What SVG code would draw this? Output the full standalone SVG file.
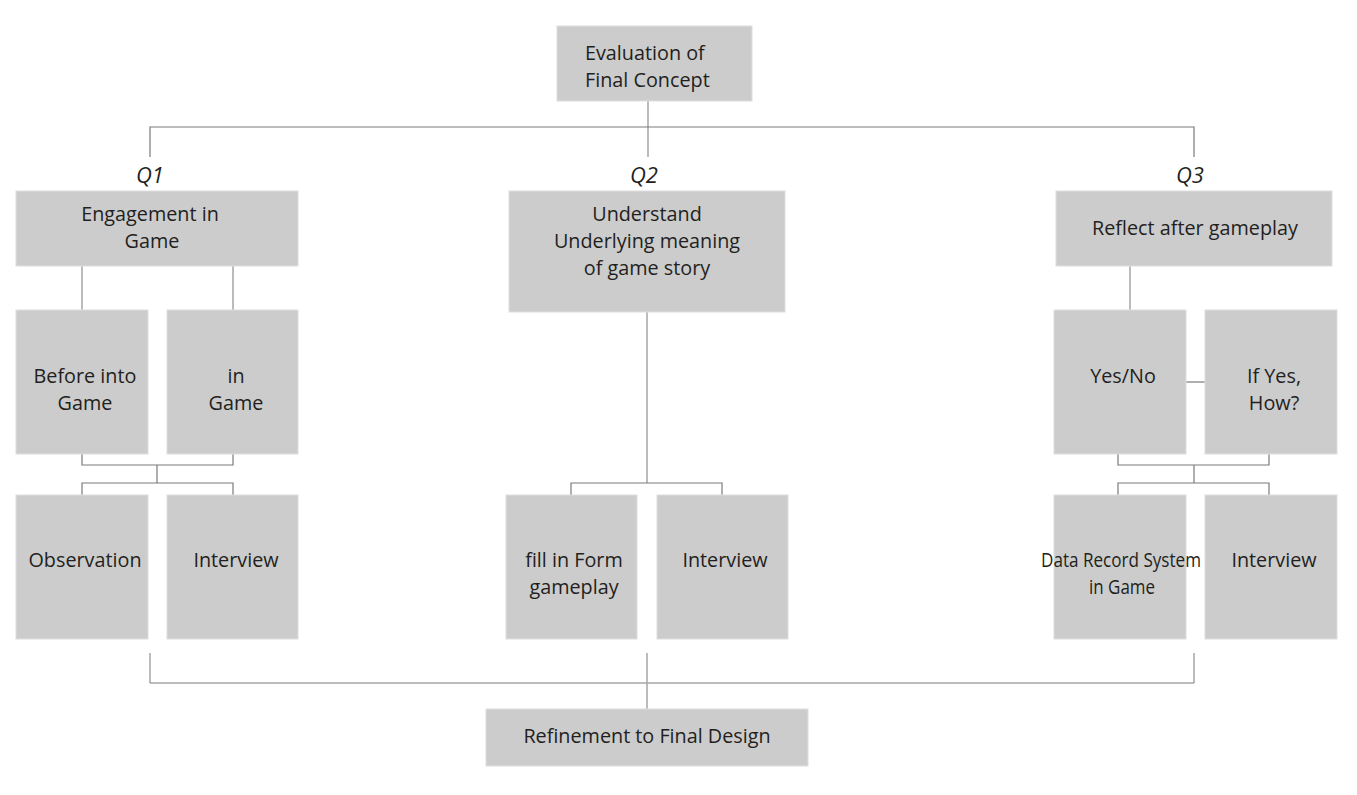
<svg xmlns="http://www.w3.org/2000/svg" width="1357" height="795" viewBox="0 0 1357 795">
<style>
.box{fill:#cccccc;stroke:#dedede;stroke-width:1}
.t{font-family:"Open Sans","Noto Sans",sans-serif;font-size:19.8px;fill:#231f20;text-anchor:middle}
.q{font-family:"Open Sans","Noto Sans",sans-serif;font-size:22px;font-style:italic;fill:#231f20;text-anchor:middle}
.dk{fill:none;stroke:#7a7a7a;stroke-width:1.2}
.lt{fill:none;stroke:#ababab;stroke-width:1.6}
</style>
<rect width="1357" height="795" fill="#ffffff"/>
<g id="connectors">
<line class="lt" x1="648" y1="101" x2="648" y2="157"/>
<polyline class="dk" points="150,157 150,127 1194,127 1194,157"/>
<line class="lt" x1="82" y1="266" x2="82" y2="312"/>
<line class="lt" x1="233" y1="266" x2="233" y2="312"/>
<polyline class="dk" points="82,454 82,465 233,465 233,454"/>
<line class="dk" x1="157" y1="465" x2="157" y2="483"/>
<polyline class="dk" points="82,496 82,483 233,483 233,496"/>
<line class="lt" x1="647" y1="312" x2="647" y2="483"/>
<polyline class="dk" points="571,497 571,483 722,483 722,497"/>
<line class="lt" x1="1130" y1="266" x2="1130" y2="312"/>
<line class="dk" x1="1186" y1="382" x2="1205" y2="382"/>
<polyline class="dk" points="1118,454 1118,465 1269,465 1269,454"/>
<line class="dk" x1="1194" y1="465" x2="1194" y2="483"/>
<polyline class="dk" points="1118,496 1118,483 1269,483 1269,496"/>
<line class="lt" x1="150" y1="653" x2="150" y2="683"/>
<line class="lt" x1="1194" y1="653" x2="1194" y2="683"/>
<line class="dk" x1="150" y1="683" x2="1194" y2="683"/>
<line class="lt" x1="647" y1="653" x2="647" y2="709"/>
</g>
<g id="evaluation">
<rect class="box" x="557" y="26" width="195" height="75"/>
<text class="t" x="585" y="60" style="text-anchor:start">Evaluation of</text>
<text class="t" x="585" y="87" style="text-anchor:start">Final Concept</text>
</g>
<g id="q-labels">
<text class="q" x="150" y="183">Q1</text>
<text class="q" x="644" y="183">Q2</text>
<text class="q" x="1190" y="183">Q3</text>
</g>
<g id="engagement">
<rect class="box" x="16" y="191" width="282" height="75"/>
<text class="t" x="150" y="221">Engagement in</text>
<text class="t" x="152" y="248">Game</text>
</g>
<g id="understand">
<rect class="box" x="509" y="191" width="276" height="121"/>
<text class="t" x="647" y="221">Understand</text>
<text class="t" x="647" y="248">Underlying meaning</text>
<text class="t" x="647" y="275">of game story</text>
</g>
<g id="reflect">
<rect class="box" x="1056" y="191" width="276" height="75"/>
<text class="t" x="1195" y="235">Reflect after gameplay</text>
</g>
<g id="before">
<rect class="box" x="16" y="310" width="132" height="144"/>
<text class="t" x="85" y="383">Before into</text>
<text class="t" x="85" y="410">Game</text>
</g>
<g id="ingame">
<rect class="box" x="167" y="310" width="131" height="144"/>
<text class="t" x="236" y="383">in</text>
<text class="t" x="236" y="410">Game</text>
</g>
<g id="observation">
<rect class="box" x="16" y="495" width="132" height="144"/>
<text class="t" x="85" y="567">Observation</text>
</g>
<g id="interview1">
<rect class="box" x="167" y="495" width="131" height="144"/>
<text class="t" x="236" y="567">Interview</text>
</g>
<g id="fillform">
<rect class="box" x="506" y="495" width="131" height="144"/>
<text class="t" x="574" y="567">fill in Form</text>
<text class="t" x="574" y="594">gameplay</text>
</g>
<g id="interview2">
<rect class="box" x="657" y="495" width="131" height="144"/>
<text class="t" x="725" y="567">Interview</text>
</g>
<g id="yesno">
<rect class="box" x="1054" y="310" width="132" height="144"/>
<text class="t" x="1123" y="383">Yes/No</text>
</g>
<g id="ifyes">
<rect class="box" x="1205" y="310" width="132" height="144"/>
<text class="t" x="1274" y="383">If Yes,</text>
<text class="t" x="1274" y="410">How?</text>
</g>
<g id="datarecord">
<rect class="box" x="1054" y="495" width="132" height="144"/>
<text class="t" x="1121" y="567" textLength="160" lengthAdjust="spacingAndGlyphs">Data Record System</text>
<text class="t" x="1122" y="594" textLength="66" lengthAdjust="spacingAndGlyphs">in Game</text>
</g>
<g id="interview3">
<rect class="box" x="1205" y="495" width="132" height="144"/>
<text class="t" x="1274" y="567">Interview</text>
</g>
<g id="refinement">
<rect class="box" x="486" y="709" width="322" height="57"/>
<text class="t" x="647" y="743">Refinement to Final Design</text>
</g>
</svg>
